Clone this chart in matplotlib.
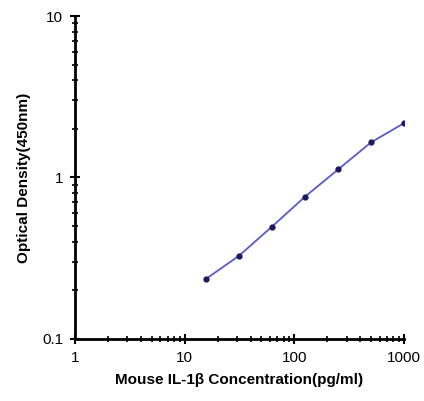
import matplotlib.pyplot as plt
from matplotlib.ticker import LogLocator, FixedLocator, FixedFormatter

# =========================
# DATA
# =========================

concentration = [15.6, 31.25, 62.5, 125, 250, 500, 1000]
optical_density = [0.235, 0.327, 0.496, 0.76, 1.12, 1.65, 2.17]

x_ticks = [1, 10, 100, 1000]
x_tick_labels = ["1", "10", "100", "1000"]
y_ticks = [0.1, 1, 10]
y_tick_labels = ["0.1", "1", "10"]

# =========================
# FIGURE
# =========================

plt.rcParams["font.family"] = ["Liberation Sans", "DejaVu Sans"]

fig = plt.figure(figsize=(4.24, 4.01), dpi=100)
ax = fig.add_axes([0.177, 0.155, 0.776, 0.805])

ax.plot(
    concentration,
    optical_density,
    color="#5a5ac8",
    linewidth=1.3,
    marker="o",
    markersize=3.5,
    markerfacecolor="#1a1a5e",
    markeredgecolor="#1a1a5e",
)

ax.set_xscale("log")
ax.set_yscale("log")
ax.set_xlim(1, 1000)
ax.set_ylim(0.1, 10)

ax.xaxis.set_major_locator(FixedLocator(x_ticks))
ax.xaxis.set_major_formatter(FixedFormatter(x_tick_labels))
ax.yaxis.set_major_locator(FixedLocator(y_ticks))
ax.yaxis.set_major_formatter(FixedFormatter(y_tick_labels))
ax.xaxis.set_minor_locator(LogLocator(base=10, subs=range(2, 10)))
ax.yaxis.set_minor_locator(LogLocator(base=10, subs=range(2, 10)))

ax.spines["top"].set_visible(False)
ax.spines["right"].set_visible(False)
ax.spines["left"].set_linewidth(2)
ax.spines["bottom"].set_linewidth(2)

ax.tick_params(which="major", direction="inout", length=7, width=1.5,
               labelsize=11, pad=5)
ax.tick_params(which="minor", direction="inout", length=4, width=1.2)

ax.set_xlabel("Mouse IL-1β Concentration(pg/ml)", fontsize=11,
              fontweight="bold", labelpad=6)
ax.set_ylabel("Optical Density(450nm)", fontsize=11,
              fontweight="bold", labelpad=8)

fig.savefig("out.png", dpi=100)
